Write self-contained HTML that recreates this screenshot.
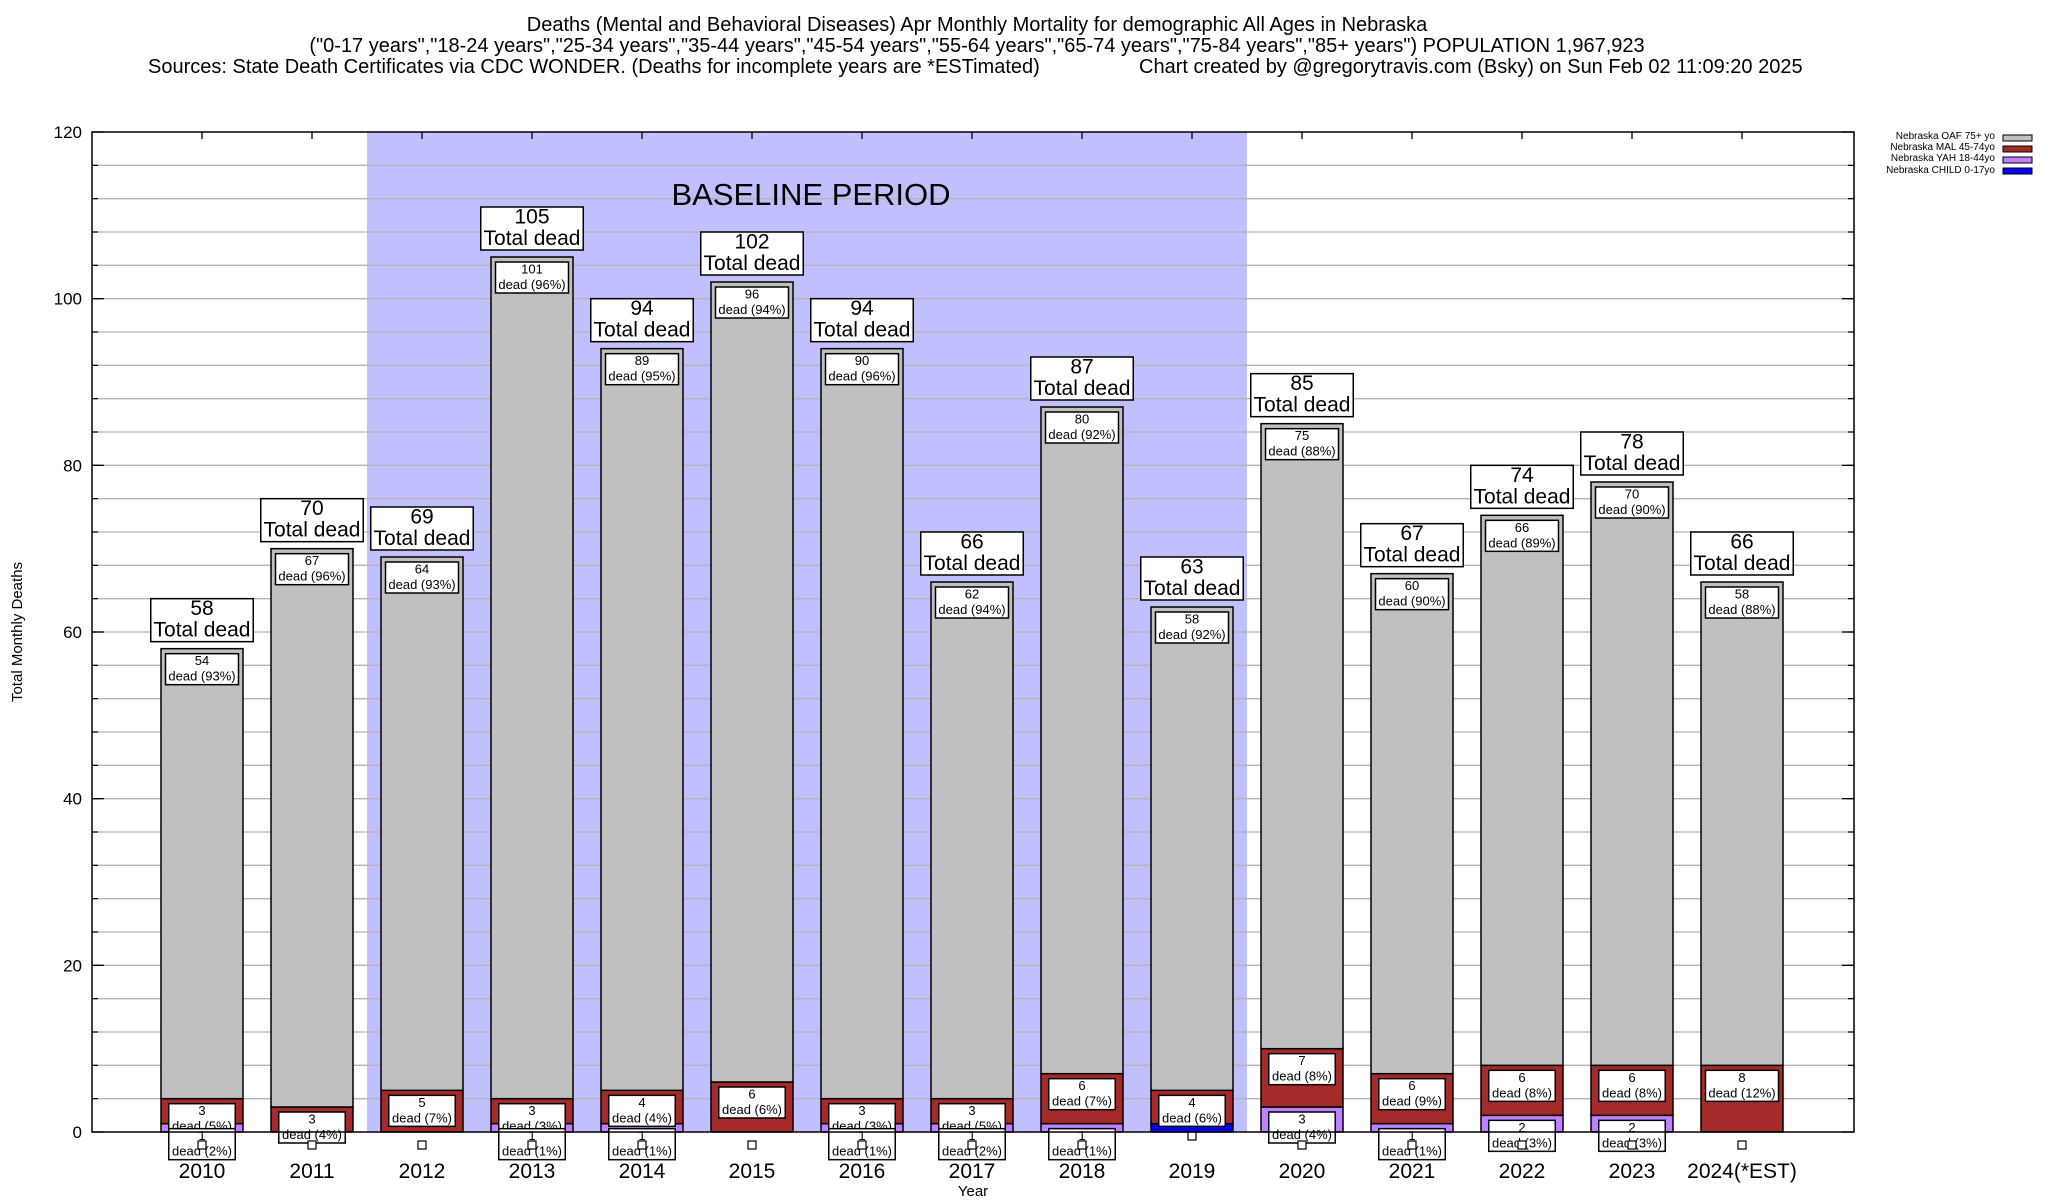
<!DOCTYPE html>
<html><head><meta charset="utf-8">
<style>
html,body{margin:0;padding:0;background:#fff;}
svg{display:block;font-family:"Liberation Sans",Arial,sans-serif;}
</style></head>
<body>
<svg id="chart" width="2048" height="1200" viewBox="0 0 2048 1200" xmlns="http://www.w3.org/2000/svg">
<g font-size="20" fill="#000">
<text x="977" y="31" text-anchor="middle">Deaths (Mental and Behavioral Diseases) Apr Monthly Mortality for demographic All Ages in Nebraska</text>
<text x="977" y="52" text-anchor="middle">("0-17 years","18-24 years","25-34 years","35-44 years","45-54 years","55-64 years","65-74 years","75-84 years","85+ years") POPULATION 1,967,923</text>
<text x="148" y="73">Sources: State Death Certificates via CDC WONDER. (Deaths for incomplete years are *ESTimated)</text>
<text x="1139" y="73">Chart created by @gregorytravis.com (Bsky) on Sun Feb 02 11:09:20 2025</text>
</g>
<g id="plot"></g>
<g font-size="10">
<text x="1995" y="139" text-anchor="end">Nebraska OAF 75+ yo</text>
<rect x="2003" y="135" width="29" height="6" fill="#c0c0c0" stroke="#000"/>
<text x="1995" y="150" text-anchor="end">Nebraska MAL 45-74yo</text>
<rect x="2003" y="146" width="29" height="6" fill="#a52a2a" stroke="#000"/>
<text x="1995" y="161" text-anchor="end">Nebraska YAH 18-44yo</text>
<rect x="2003" y="157" width="29" height="6" fill="#c080ff" stroke="#000"/>
<text x="1995" y="173" text-anchor="end">Nebraska CHILD 0-17yo</text>
<rect x="2003" y="168" width="29" height="6" fill="#0000ff" stroke="#000"/>
</g>
</svg>
<script>
const years = ["2010","2011","2012","2013","2014","2015","2016","2017","2018","2019","2020","2021","2022","2023","2024(*EST)"];
const oaf   = [54,67,64,101,89,96,90,62,80,58,75,60,66,70,58];
const mal   = [3,3,5,3,4,6,3,3,6,4,7,6,6,6,8];
const yah   = [1,0,0,1,1,0,1,1,1,0,3,1,2,2,0];
const child = [0,0,0,0,0,0,0,0,0,1,0,0,0,0,0];
const yTicks = [0,20,40,60,80,100,120];
const baselineStart = 2;
const baselineEnd = 9;

const NS = "http://www.w3.org/2000/svg";
const plot = document.getElementById('plot');
const L = 92, R = 1854, T = 132, B = 1132, yMax = 120;
const X0 = 202, STEP = 110, BW = 82;
function xs(i){ return X0 + i*STEP; }
function ys(v){ return B - v*(B-T)/yMax; }
function mk(tag, attrs, parent){
  const e = document.createElementNS(NS, tag);
  for (const k in attrs) e.setAttribute(k, attrs[k]);
  (parent||plot).appendChild(e);
  return e;
}
const bg = mk('rect',{x:L,y:T,width:R-L,height:B-T,fill:'#fff'});


const sx0 = (xs(baselineStart-1)+xs(baselineStart))/2, sx1 = (xs(baselineEnd)+xs(baselineEnd+1))/2;
const shade = mk('rect',{x:sx0,y:T,width:sx1-sx0,height:B-T,fill:'#c0c0ff'});


for (let v=4; v<yMax; v+=4){
  const g = mk('line',{x1:L,x2:R,y1:ys(v),y2:ys(v),stroke:'#b4b4b4','stroke-width':1.3});
  
  
  mk('line',{x1:L,x2:L+6,y1:ys(v),y2:ys(v),stroke:'#000','stroke-width':1.2});
  mk('line',{x1:R-6,x2:R,y1:ys(v),y2:ys(v),stroke:'#000','stroke-width':1.2});
}
const bt = mk('text',{x:(sx0+sx1)/2 + 4,y:205,'font-size':31,'text-anchor':'middle'});
bt.textContent = 'BASELINE PERIOD';


yTicks.forEach(v=>{
  const t = mk('text',{x:82,y:ys(v)+6,'font-size':17,'text-anchor':'end'});
  t.textContent = v;
  
  
  mk('line',{x1:L,x2:L+12,y1:ys(v),y2:ys(v),stroke:'#000','stroke-width':1.3});
  mk('line',{x1:R-12,x2:R,y1:ys(v),y2:ys(v),stroke:'#000','stroke-width':1.3});
});
const yt = mk('text',{x:0,y:0,'font-size':15,'text-anchor':'middle',transform:'translate(22,632) rotate(-90)'});
yt.textContent = 'Total Monthly Deaths';


const xt = mk('text',{x:973,y:1196,'font-size':15,'text-anchor':'middle'});
xt.textContent = 'Year';



function labelBox(cx, top, lines, fs, h, name, wf){
  const g = mk('g',{});
  
  
  const maxLen = Math.max(...lines.map(s=>s.length));
  const w = maxLen*fs*wf + 8;
  mk('rect',{x:cx-w/2,y:top,width:w,height:h,fill:'#fff',stroke:'#000','stroke-width':1.5},g);
  lines.forEach((s,k)=>{
    const t = mk('text',{x:cx,y:top + (k+1)*h/2 - (fs>15?5:4),'font-size':fs,'text-anchor':'middle'},g);
    t.textContent = s;
  });
}

const colors = {oaf:'#c0c0c0', mal:'#a52a2a', yah:'#c080ff', child:'#0000ff'};
const labels = [];
years.forEach((yr,i)=>{
  const cx = xs(i);
  const total = oaf[i]+mal[i]+yah[i]+child[i];
  const segs = [['child',child[i]],['yah',yah[i]],['mal',mal[i]],['oaf',oaf[i]]];
  let base = 0;
  segs.forEach(([k,v])=>{
    if (v<=0) return;
    const r = mk('rect',{x:cx-BW/2,y:ys(base+v),width:BW,height:ys(base)-ys(base+v),fill:colors[k],stroke:'#000','stroke-width':1.5});
    
    
    if (k!=='child') labels.push([cx, ys(base+v)+5, v, Math.round(v/total*100), k, yr]);
    base += v;
  });
  mk('line',{x1:cx,x2:cx,y1:T,y2:T+7,stroke:'#000','stroke-width':1.3});
  const xl = mk('text',{x:cx,y:1178,'font-size':21,'text-anchor':'middle'});
  xl.textContent = yr;
  
  
  labelBox(cx, ys(total)-50, [String(total),'Total dead'], 21, 43, 'total-label-'+yr, 0.45);
});
['oaf','mal','yah'].forEach(k=>{
  labels.filter(l=>l[4]===k).forEach(l=>{
    labelBox(l[0], l[1], [String(l[2]), 'dead ('+l[3]+'%)'], 13, 31, 'segment-label-'+k+'-'+l[5], 0.5);
  });
});
years.forEach((yr,i)=>{
  const my = child[i]>0 ? 1136 : 1145;
  const m = mk('rect',{x:xs(i)-4,y:my-4,width:8,height:8,fill:'#fff',stroke:'#000','stroke-width':1.2});
  
  
});
const fr = mk('rect',{x:L,y:T,width:R-L,height:B-T,fill:'none',stroke:'#000','stroke-width':1.5});


</script>
</body></html>
